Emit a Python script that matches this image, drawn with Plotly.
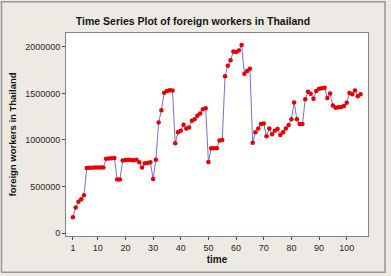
import plotly.graph_objects as go

time = list(range(1, 106))
workers = [
    170000, 275000, 337000, 362000, 405000, 698000, 700000, 702000, 703000, 703000,
    703000, 703000, 798000, 800000, 803000, 805000, 575000, 575000, 780000, 785000,
    787000, 785000, 782000, 787000, 760000, 705000, 750000, 752000, 760000, 580000,
    787000, 1188000, 1320000, 1507000, 1525000, 1535000, 1530000, 965000, 1082000, 1099000,
    1163000, 1124000, 1135000, 1206000, 1223000, 1259000, 1284000, 1330000, 1340000, 762000,
    910000, 910000, 910000, 995000, 1000000, 1685000, 1798000, 1855000, 1951000, 1945000,
    1960000, 2021000, 1710000, 1740000, 1765000, 970000, 1082000, 1124000, 1170000, 1177000,
    1039000, 1124000, 1060000, 1099000, 1117000, 1053000, 1082000, 1124000, 1160000, 1223000,
    1401000, 1223000, 1170000, 1170000, 1436000, 1518000, 1497000, 1443000, 1525000, 1550000,
    1555000, 1560000, 1450000, 1500000, 1370000, 1345000, 1350000, 1355000, 1365000, 1400000,
    1505000, 1490000, 1530000, 1470000, 1490000,
]
x_ticks = [1, 10, 20, 30, 40, 50, 60, 70, 80, 90, 100]
y_ticks = [0, 500000, 1000000, 1500000, 2000000]
y_tick_labels = ["0", "500000", "1000000", "1500000", "2000000"]

W, H = 391, 276
L, R, T, B = 66, 368, 33, 238

fig = go.Figure()
fig.add_trace(go.Scatter(
    x=time, y=workers, mode="lines+markers",
    line=dict(color="rgb(112,112,225)", width=1),
    marker=dict(color="rgb(235,0,0)", size=4.5),
    showlegend=False,
))

def px_to_paper_x(p):
    return (p - L) / (R - L)

def px_to_paper_y(p):
    return (B - p) / (B - T)

fig.add_shape(type="rect", xref="paper", yref="paper",
              x0=px_to_paper_x(1.5), x1=px_to_paper_x(385),
              y0=px_to_paper_y(274.5), y1=px_to_paper_y(1.5),
              line=dict(color="rgb(150,150,150)", width=1.5), layer="below")

fig.update_layout(
    width=W, height=H,
    margin=dict(l=L, r=W - R, t=T, b=H - B),
    paper_bgcolor="rgb(236,234,226)",
    plot_bgcolor="white",
    font=dict(family="Liberation Sans, Arial, sans-serif", size=9, color="rgb(40,40,40)"),
    title=dict(text="<b>Time Series Plot of foreign workers in Thailand</b>",
               x=193 / W, xref="container", xanchor="center", y=1 - 21.5 / H, yanchor="middle",
               font=dict(size=10.5, color="rgb(20,20,20)")),
)
fig.update_xaxes(
    range=[-1.5, 107.7], tickvals=x_ticks, ticks="outside", ticklen=3,
    tickcolor="rgb(80,80,80)", showgrid=False, zeroline=False,
    showline=True, linecolor="rgb(130,130,130)", mirror=True, linewidth=1,
    title=dict(text="<b>time</b>", standoff=4, font=dict(size=10, color="rgb(20,20,20)")),
)
fig.update_yaxes(
    range=[-32000, 2149000], tickvals=y_ticks, ticktext=y_tick_labels,
    ticks="outside", ticklen=3,
    tickcolor="rgb(80,80,80)", showgrid=False, zeroline=False,
    showline=True, linecolor="rgb(130,130,130)", mirror=True, linewidth=1,
    title=dict(text="<b>foreign workers in Thailand</b>", standoff=6,
               font=dict(size=9.5, color="rgb(20,20,20)")),
)

fig.write_html("out.html")
